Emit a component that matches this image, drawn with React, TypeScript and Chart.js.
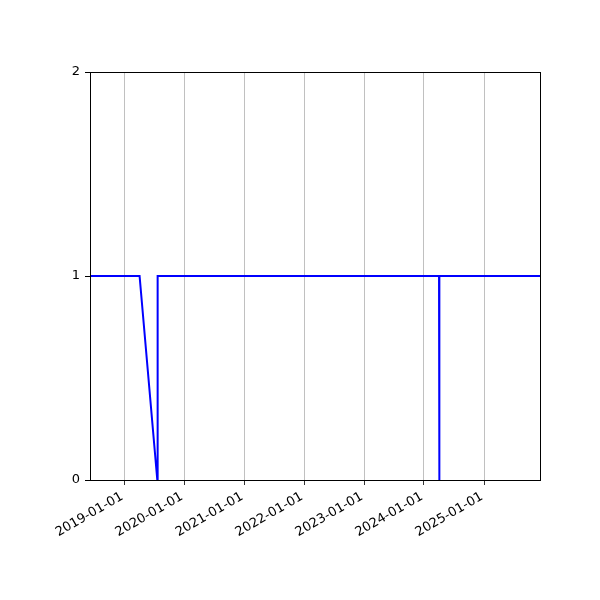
import { useEffect, useRef } from 'react';
import { Chart, registerables } from 'chart.js';

Chart.register(...registerables);

// samples (date, value)
const dates = [
  '2018-06-07',
  '2019-04-05',
  '2019-07-22',
  '2019-07-24',
  '2024-04-02',
  '2024-04-03',
  '2024-04-05',
  '2025-12-08',
];
const values = [1, 1, 0, 1, 1, 0, 1, 1];
const xTickLabels = [
  '2019-01-01',
  '2020-01-01',
  '2021-01-01',
  '2022-01-01',
  '2023-01-01',
  '2024-01-01',
  '2025-01-01',
];
const yTicks = [0, 1, 2];

const frame = {
  id: 'frame',
  afterDraw(chart: Chart) {
    const { ctx, chartArea } = chart;
    ctx.save();
    ctx.strokeStyle = '#000';
    ctx.lineWidth = 1;
    ctx.strokeRect(
      Math.round(chartArea.left) + 0.5,
      Math.round(chartArea.top) + 0.5,
      Math.round(chartArea.right - chartArea.left),
      Math.round(chartArea.bottom - chartArea.top)
    );
    ctx.restore();
  },
};

const App = () => {
  const canvasRef = useRef<HTMLCanvasElement>(null);
  const chartRef = useRef<Chart<'line'>>();

  useEffect(() => {
    document.body.style.margin = '0';
    const ctx = canvasRef.current?.getContext('2d');
    if (!ctx) return;
    if (chartRef.current) chartRef.current.destroy();

    chartRef.current = new Chart(ctx, {
      type: 'line',
      data: {
        datasets: [
          {
            data: dates.map((d, i) => ({ x: Date.parse(d), y: values[i] })),
            borderColor: '#0000ff',
            borderWidth: 2,
            pointRadius: 0,
            tension: 0,
            fill: false,
          },
        ],
      },
      options: {
        responsive: false,
        animation: false,
        layout: { padding: { top: 72, right: 60, left: 0, bottom: 0 } },
        plugins: {
          legend: { display: false },
          tooltip: { enabled: false },
        },
        font: { family: 'DejaVu Sans' },
        scales: {
          x: {
            type: 'linear',
            min: Date.parse(dates[0]),
            max: Date.parse(dates[dates.length - 1]),
            afterBuildTicks: (scale) => {
              scale.ticks = xTickLabels.map((t) => ({ value: Date.parse(t) }));
            },
            afterFit: (scale) => {
              scale.height = 120;
            },
            border: { display: false },
            grid: {
              color: '#b0b0b0',
              lineWidth: 0.8,
              tickColor: '#000',
              tickLength: 5,
            },
            ticks: {
              autoSkip: false,
              minRotation: 30,
              maxRotation: 30,
              padding: 4,
              labelOffset: -2,
              color: '#000',
              font: { family: 'DejaVu Sans', size: 13 },
              callback: (v) => new Date(Number(v)).toISOString().slice(0, 10),
            },
          },
          y: {
            min: yTicks[0],
            max: yTicks[yTicks.length - 1],
            afterBuildTicks: (scale) => {
              scale.ticks = yTicks.map((v) => ({ value: v }));
            },
            afterFit: (scale) => {
              scale.width = 90;
            },
            border: { display: false },
            grid: {
              drawOnChartArea: false,
              tickColor: '#000',
              tickLength: 5,
            },
            ticks: {
              padding: 5,
              color: '#000',
              font: { family: 'DejaVu Sans', size: 13 },
            },
          },
        },
      },
      plugins: [frame],
    });

    return () => {
      if (chartRef.current) {
        chartRef.current.destroy();
        chartRef.current = undefined;
      }
    };
  }, []);

  return (
    <div style={{ position: 'absolute', left: 0, top: 0, width: 600, height: 600, background: '#fff' }}>
      <canvas ref={canvasRef} width={600} height={600} />
    </div>
  );
};

export default App;
